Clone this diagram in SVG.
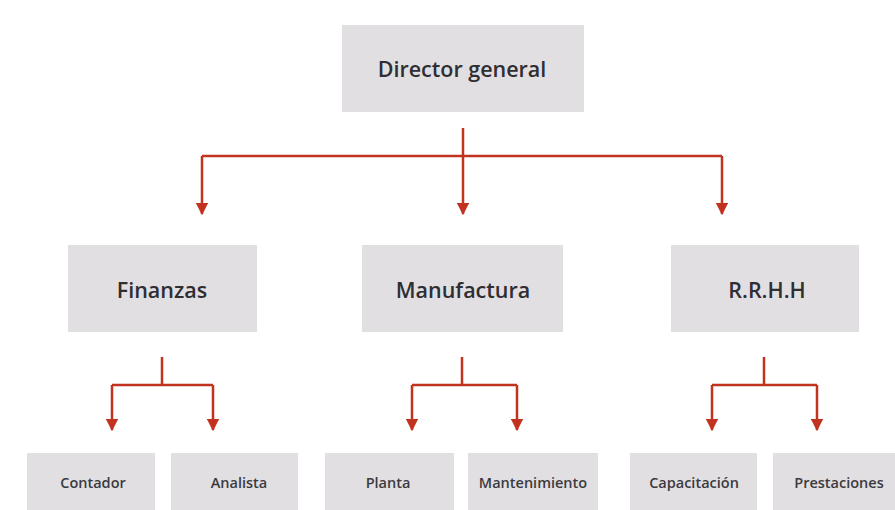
<svg xmlns="http://www.w3.org/2000/svg" width="895" height="510" viewBox="0 0 895 510">
<style>
.box{fill:#e2dfe2;}
.t1{font-family:"Open Sans","Noto Sans",sans-serif;font-weight:600;font-size:21.5px;fill:#2e2e33;text-anchor:middle;dominant-baseline:central;}
.t3{font-family:"Open Sans","Noto Sans",sans-serif;font-weight:600;font-size:14.5px;fill:#3a3a3f;text-anchor:middle;dominant-baseline:central;}
.c{fill:none;stroke:#c2331f;stroke-width:2.5;}
</style>
<defs>
<marker id="ah" viewBox="0 0 10 10" refX="9" refY="5" markerWidth="5" markerHeight="5" orient="auto" markerUnits="strokeWidth">
<path d="M0,0 L10,5 L0,10 z" fill="#c2331f"/>
</marker>
</defs>
<rect width="895" height="510" fill="#ffffff"/>
<g id="connectors">
<path class="c" d="M463,128 V156"/>
<path class="c" d="M202,156 H722"/>
<path class="c" d="M202,156 V214" marker-end="url(#ah)"/>
<path class="c" d="M463,156 V214" marker-end="url(#ah)"/>
<path class="c" d="M722,156 V214" marker-end="url(#ah)"/>
<path class="c" d="M162,357 V385"/>
<path class="c" d="M112,385 H213"/>
<path class="c" d="M112,385 V430" marker-end="url(#ah)"/>
<path class="c" d="M213,385 V430" marker-end="url(#ah)"/>
<path class="c" d="M462,357 V385"/>
<path class="c" d="M412,385 H517"/>
<path class="c" d="M412,385 V430" marker-end="url(#ah)"/>
<path class="c" d="M517,385 V430" marker-end="url(#ah)"/>
<path class="c" d="M764,357 V385"/>
<path class="c" d="M712,385 H817"/>
<path class="c" d="M712,385 V430" marker-end="url(#ah)"/>
<path class="c" d="M817,385 V430" marker-end="url(#ah)"/>
</g>
<g id="director"><rect class="box" x="342" y="25" width="242" height="87"/><text class="t1" x="462" y="68">Director general</text></g>
<g id="finanzas"><rect class="box" x="68" y="245" width="189" height="87"/><text class="t1" x="162" y="289">Finanzas</text></g>
<g id="manufactura"><rect class="box" x="362" y="245" width="201" height="87"/><text class="t1" x="463" y="289">Manufactura</text></g>
<g id="rrhh"><rect class="box" x="671" y="245" width="188" height="87"/><text class="t1" x="767" y="289">R.R.H.H</text></g>
<g id="contador"><rect class="box" x="27" y="453" width="128" height="57"/><text class="t3" x="93" y="482">Contador</text></g>
<g id="analista"><rect class="box" x="171" y="453" width="127" height="57"/><text class="t3" x="239" y="482">Analista</text></g>
<g id="planta"><rect class="box" x="325" y="453" width="129" height="57"/><text class="t3" x="388" y="482">Planta</text></g>
<g id="mantenimiento"><rect class="box" x="468" y="453" width="130" height="57"/><text class="t3" x="533" y="482">Mantenimiento</text></g>
<g id="capacitacion"><rect class="box" x="630" y="453" width="127" height="57"/><text class="t3" x="694" y="482">Capacitación</text></g>
<g id="prestaciones"><rect class="box" x="773" y="453" width="130" height="57"/><text class="t3" x="839" y="482">Prestaciones</text></g>
</svg>
